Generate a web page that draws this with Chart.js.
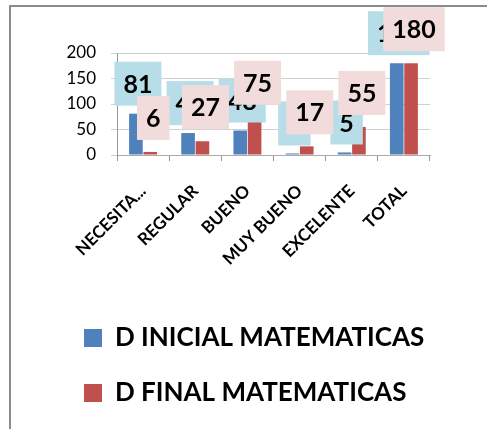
<!DOCTYPE html>
<html>
<head>
<meta charset="utf-8">
<script src="https://cdn.jsdelivr.net/npm/chart.js@4/dist/chart.umd.min.js"></script>
<style>
  html, body { margin: 0; padding: 0; background: #fff; }
  #wrap { position: relative; width: 487px; height: 429px; }
  #frame {
    position: absolute; left: 9px; top: 5px; right: -4px; bottom: -4px;
    border-left: 2px solid #8c8c8c; border-top: 2px solid #8c8c8c;
    pointer-events: none;
  }
</style>
</head>
<body>
<div id="wrap">
  <canvas id="chart" width="487" height="429"></canvas>
  <div id="frame"></div>
</div>
<script>
// values
const categories = ['NECESITA...', 'REGULAR', 'BUENO', 'MUY BUENO', 'EXCELENTE', 'TOTAL'];
const inicial = [81, 43, 48, 3, 5, 180];
const final = [6, 27, 75, 17, 55, 180];
const yTicks = [0, 50, 100, 150, 200];

const FONT = 'Lato, "Open Sans", sans-serif';

// boxed value labels like the excel data labels
const boxLabels = {
    id: 'boxLabels',
    afterDatasetsDraw(chart) {
        const ctx = chart.ctx;
        ctx.save();
        ctx.font = 'bold 25px ' + FONT;
        ctx.textAlign = 'center';
        ctx.textBaseline = 'middle';
        chart.data.datasets.forEach((ds, di) => {
            const meta = chart.getDatasetMeta(di);
            meta.data.forEach((bar, i) => {
                const txt = String(ds.data[i]);
                const cx = bar.x + ds.labelShift;
                const cy = bar.y - ds.labelOffset;
                const w = ctx.measureText(txt).width + 18;
                const h = 44;
                ctx.fillStyle = ds.labelBg;
                ctx.fillRect(cx - w / 2, cy - h / 2, w, h);
                ctx.fillStyle = '#000';
                ctx.fillText(txt, cx, cy + 1);
            });
        });
        ctx.restore();
    }
};

const chart = new Chart(document.getElementById('chart').getContext('2d'), {
    type: 'bar',
    data: {
        labels: categories,
        datasets: [{
            label: 'D INICIAL MATEMATICAS',
            data: inicial,
            backgroundColor: '#4F81BD',
            labelBg: '#B7DEE8',
            labelOffset: 30,
            labelShift: 2,
            categoryPercentage: 0.55,
            barPercentage: 0.95
        }, {
            label: 'D FINAL MATEMATICAS',
            data: final,
            backgroundColor: '#C0504D',
            labelBg: '#F2DCDB',
            labelOffset: 34,
            labelShift: 3,
            categoryPercentage: 0.55,
            barPercentage: 0.95
        }]
    },
    options: {
        responsive: false,
        animation: false,
        layout: { padding: { top: 53, left: 55, right: 57, bottom: 13 } },
        scales: {
            x: {
                afterFit: (s) => { s.height = 141; },
                grid: { drawOnChartArea: false, color: '#999', tickLength: 6 },
                border: { color: '#aaa' },
                ticks: {
                    color: '#000',
                    font: { family: FONT, size: 17, weight: 'bold' },
                    minRotation: 45, maxRotation: 45, padding: 20
                }
            },
            y: {
                min: 0, max: 200,
                afterFit: (s) => { s.width = 62; },
                afterBuildTicks: (s) => { s.ticks = yTicks.map(v => ({ value: v })); },
                grid: { color: '#d0d0d0', tickLength: 6 },
                border: { color: '#999' },
                ticks: {
                    color: '#000',
                    font: { family: FONT, size: 17 },
                    padding: 15
                }
            }
        },
        plugins: {
            legend: {
                position: 'bottom',
                align: 'start',
                labels: {
                    color: '#000',
                    font: { family: FONT, size: 26, weight: 'bold' },
                    boxWidth: 18, boxHeight: 18,
                    padding: 29
                }
            },
            tooltip: { enabled: false }
        }
    },
    plugins: [boxLabels]
});
</script>
</body>
</html>
